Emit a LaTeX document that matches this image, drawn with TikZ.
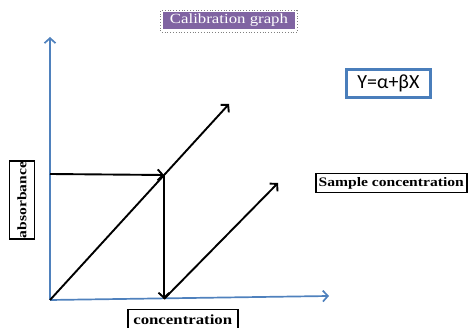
\documentclass[tikz,border=0pt]{standalone}
\usepackage{fontspec}
\setmainfont{Liberation Serif}
\newfontfamily\widefont[FakeStretch=1.2]{Liberation Serif}
\newfontfamily\calibri{Carlito}
\usetikzlibrary{arrows.meta,positioning}
\definecolor{axisblue}{HTML}{4F81BD}
\definecolor{boxblue}{HTML}{4A7EBB}
\definecolor{titlepurple}{HTML}{8064A2}

\begin{document}
\begin{tikzpicture}[
	x = 1pt, y = -1pt, % one unit = one pixel of the reference
	> = {Straight Barb[length=5pt, width=11pt]}, % open arrow heads
	axis/.style={->, draw=axisblue, line width=1.7pt},
	ray/.style={->, draw=black, line width=1.9pt},
	lbl/.style={draw=black, line width=1.5pt, font=\widefont\bfseries\fontsize{13}{13}\selectfont, inner sep=1pt},
	eqnbox/.style={draw=boxblue, line width=2.6pt, fill=white, font=\calibri\fontsize{20}{20}\selectfont, minimum width=84pt, minimum height=28pt},
	titlebox/.style={fill=titlepurple, text=white, font=\widefont\fontsize{14}{14}\selectfont, minimum width=132pt, minimum height=17pt, inner sep=1pt},
	]
	\useasboundingbox (0,0) rectangle (469,328);

	% Points of the graph
	\coordinate (O) at (50,300);
	\coordinate (ytip) at (50,37);
	\coordinate (xtip) at (329,296);
	\coordinate (H) at (50,174);
	\coordinate (P) at (164,175);
	\coordinate (F) at (164,299);
	\coordinate (ray1) at (229,104);
	\coordinate (ray2) at (278,183);

	% Axes
	\draw[axis] (O) -- (ytip);
	\draw[axis] (O) -- (xtip);
	% Arrows
	\draw[ray] (O) -- (ray1);
	\draw[ray] (H) -- (P);
	\draw[ray] (P) -- (F);
	\draw[ray] (F) -- (ray2);

	% Labels
	\node[titlebox] (title) at (229,20.5) {Calibration graph};
	\draw[gray, dotted, line width=0.8pt] ([shift={(-2,-1)}]title.north west) rectangle ([shift={(2,3)}]title.south east);
	\node[eqnbox] (eqn) at (388.5,83.5) {Y=α+βX};
	\node[lbl, rotate=90, minimum width=77pt, minimum height=25pt] (ylab) at (22,200) {absorbance};
	\node[lbl, anchor=north west, minimum width=110pt, minimum height=19pt, font=\widefont\bfseries\fontsize{14}{14}\selectfont] (xlab) at (127,309) {concentration};
	\node[lbl, anchor=north west, minimum width=151pt, minimum height=19pt] (sample) at (315,173) {Sample concentration};

\end{tikzpicture}
\end{document}
